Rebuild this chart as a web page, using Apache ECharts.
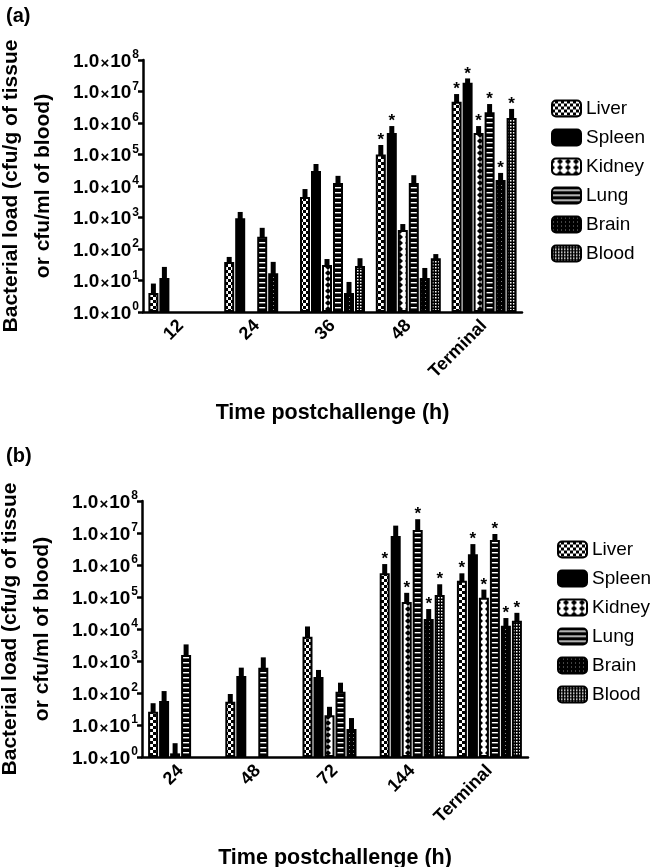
<!DOCTYPE html>
<html><head><meta charset="utf-8">
<script src="https://cdn.jsdelivr.net/npm/echarts@6/dist/echarts.min.js"></script>
<style>html,body{margin:0;padding:0;background:#fff;}#c{width:655px;height:867px;}</style>
</head><body><div id="c"></div>
<script>
// ---------- DATA ----------
const seriesNames = ['Liver', 'Spleen', 'Kidney', 'Lung', 'Brain', 'Blood'];
const yTickExponents = [0, 1, 2, 3, 4, 5, 6, 7, 8];

// Panel (a)
const catsA = ['12', '24', '36', '48', 'Terminal'];
const liverA = [4, 39, 4500, 100000, 4700000];
const liverErrA = [8, 56, 8000, 200000, 8300000];
const liverSigA = [0, 0, 0, 1, 1];
const spleenA = [12, 950, 30000, 480000, 19000000];
const spleenErrA = [27, 1500, 50000, 800000, 26000000];
const spleenSigA = [0, 0, 0, 1, 1];
const kidneyA = [null, null, 31, 400, 480000];
const kidneyErrA = [null, null, 48, 620, 800000];
const kidneySigA = [0, 0, 0, 0, 1];
const lungA = [null, 245, 12500, 12500, 2200000];
const lungErrA = [null, 470, 21000, 22000, 4000000];
const lungSigA = [0, 0, 0, 0, 1];
const brainA = [null, 17, 4, 12, 15500];
const brainErrA = [null, 39, 9, 25, 26000];
const brainSigA = [0, 0, 0, 0, 1];
const bloodA = [null, null, 29, 51, 1450000];
const bloodErrA = [null, null, 51, 69, 2800000];
const bloodSigA = [0, 0, 0, 0, 1];

// Panel (b)
const catsB = ['24', '48', '72', '144', 'Terminal'];
const liverB = [26, 53, 5700, 550000, 320000];
const liverErrB = [48, 93, 12000, 1070000, 550000];
const liverSigB = [0, 0, 0, 1, 1];
const spleenB = [56, 340, 316, 8000000, 2150000];
const spleenErrB = [115, 620, 525, 17000000, 4500000];
const spleenSigB = [0, 0, 0, 0, 1];
const kidneyB = [1.3, null, 20, 70000, 95000];
const kidneyErrB = [2.7, null, 37, 135000, 170000];
const kidneySigB = [0, 0, 0, 1, 1];
const lungB = [1550, 620, 110, 12400000, 6000000];
const lungErrB = [3300, 1300, 210, 27000000, 9300000];
const lungSigB = [0, 0, 0, 1, 1];
const brainB = [null, null, 7.5, 20500, 12600];
const brainErrB = [null, null, 16.5, 42000, 22000];
const brainSigB = [0, 0, 0, 1, 1];
const bloodB = [null, null, null, 115000, 18000];
const bloodErrB = [null, null, null, 250000, 32000];
const bloodSigB = [0, 0, 0, 1, 1];

// ---------- STYLE ----------
const FONT = '"Liberation Sans", Arial, Helvetica, sans-serif';
function tile(w, h, draw) {
  const c = document.createElement('canvas');
  c.width = w; c.height = h;
  const g = c.getContext('2d');
  draw(g);
  return { image: c, repeat: 'repeat' };
}
const patterns = {
  Liver: tile(6, 6, g => { g.fillStyle = '#000'; g.fillRect(0,0,6,6); g.fillStyle = '#fff'; g.fillRect(0,0,3,3); g.fillRect(3,3,3,3); }),
  Spleen: '#000',
  Kidney: tile(8, 6, g => { g.fillStyle = '#fff'; g.fillRect(0,0,8,6); g.fillStyle = '#000';
    g.beginPath(); g.moveTo(0,0); g.lineTo(3,3); g.lineTo(0,6); g.closePath(); g.fill();
    g.beginPath(); g.moveTo(8,0); g.lineTo(5,3); g.lineTo(8,6); g.closePath(); g.fill(); }),
  Lung: tile(4, 5, g => { g.fillStyle = '#000'; g.fillRect(0,0,4,5); g.fillStyle = '#fff'; g.fillRect(0,2,4,1.4); }),
  Brain: tile(4, 4, g => { g.fillStyle = '#000'; g.fillRect(0,0,4,4); g.fillStyle = '#888'; g.fillRect(1,1,1,1); }),
  Blood: tile(3, 3, g => { g.fillStyle = '#000'; g.fillRect(0,0,3,3); g.fillStyle = '#fff'; g.fillRect(0,0,1.5,1.5); })
};

const BAR_W = 10, BAR_GAP = 0.1;
const STEP = BAR_W * (1 + BAR_GAP);

const panels = [
  { cats: catsA, vals: [liverA, spleenA, kidneyA, lungA, brainA, bloodA],
    errs: [liverErrA, spleenErrA, kidneyErrA, lungErrA, brainErrA, bloodErrA],
    sigs: [liverSigA, spleenSigA, kidneySigA, lungSigA, brainSigA, bloodSigA],
    grid: { left: 143, top: 60, width: 379, height: 252, outerBoundsMode: 'none', containLabel: false },
    legendTop: 94, legendLeft: 546 },
  { cats: catsB, vals: [liverB, spleenB, kidneyB, lungB, brainB, bloodB],
    errs: [liverErrB, spleenErrB, kidneyErrB, lungErrB, brainErrB, bloodErrB],
    sigs: [liverSigB, spleenSigB, kidneySigB, lungSigB, brainSigB, bloodSigB],
    grid: { left: 142, top: 501, width: 386, height: 256, outerBoundsMode: 'none', containLabel: false },
    legendTop: 535, legendLeft: 552 }
];

function yLabel(v) {
  const e = Math.round(Math.log10(v));
  return '{n|1.0}{x|×}{n|10}{s|' + e + '}';
}

const grids = [], xAxes = [], yAxes = [], series = [], legends = [];
panels.forEach((p, pi) => {
  grids.push(p.grid);
  xAxes.push({
    type: 'category', gridIndex: pi, data: p.cats,
    name: 'Time postchallenge (h)', nameLocation: 'middle', nameGap: 90,
    nameTextStyle: { fontFamily: FONT, fontWeight: 'bold', fontSize: 21.5, color: '#000' },
    axisLine: { lineStyle: { color: '#000', width: 2.5 } },
    axisTick: { alignWithLabel: true, length: 6, lineStyle: { color: '#000', width: 2.5 } },
    axisLabel: { rotate: 45, margin: 11, fontFamily: FONT, fontWeight: 'bold', fontSize: 18, color: '#000' },
    splitLine: { show: false }
  });
  yAxes.push({
    type: 'log', logBase: 10, gridIndex: pi, min: 1, max: 1e8, interval: 1,
    name: 'Bacterial load (cfu/g of tissue\nor cfu/ml of blood)', nameLocation: 'middle', nameGap: 84, nameRotate: 90,
    nameTextStyle: { fontFamily: FONT, fontWeight: 'bold', fontSize: 21, color: '#000', lineHeight: 32 },
    axisLine: { show: true, lineStyle: { color: '#000', width: 2.5 } },
    axisTick: { show: true, length: 5, lineStyle: { color: '#000', width: 2.5 } },
    minorTick: { show: false },
    splitLine: { show: false },
    axisLabel: {
      margin: 4, formatter: yLabel, fontSize: 19, fontWeight: 'bold', color: '#000', fontFamily: FONT,
      rich: {
        n: { fontFamily: FONT, fontWeight: 'bold', fontSize: 19, color: '#000', lineHeight: 22, verticalAlign: 'bottom' },
        x: { fontFamily: FONT, fontSize: 15, color: '#000', lineHeight: 22, verticalAlign: 'bottom', padding: [0, 1, 0, 1] },
        s: { fontFamily: FONT, fontWeight: 'bold', fontSize: 12, color: '#000', lineHeight: 22, verticalAlign: 'top', padding: [0, 0, 0, 1] }
      }
    }
  });
  seriesNames.forEach((nm, si) => {
    series.push({
      type: 'bar', name: nm, xAxisIndex: pi, yAxisIndex: pi,
      data: p.vals[si], barWidth: BAR_W, barGap: (BAR_GAP * 100) + '%',
      itemStyle: { color: patterns[nm], borderColor: '#000', borderWidth: 2 },
      emphasis: { disabled: true }, z: 2
    });
  });
  const errData = [];
  p.cats.forEach((c, ci) => {
    seriesNames.forEach((nm, si) => {
      const v = p.vals[si][ci];
      if (v != null) errData.push([ci, si, v, p.errs[si][ci], p.sigs[si][ci]]);
    });
  });
  series.push({
    type: 'custom', xAxisIndex: pi, yAxisIndex: pi, data: errData, z: 3,
    encode: { x: 0, y: [2, 3] }, silent: true,
    renderItem: function (params, api) {
      const ci = api.value(0), si = api.value(1), v = api.value(2), e = api.value(3), sig = api.value(4);
      const p0 = api.coord([ci, v]);
      const p1 = api.coord([ci, e]);
      const x = p0[0] + (si - 2.5) * STEP;
      const children = [{
        type: 'rect',
        shape: { x: x - 2.5, y: p1[1], width: 5, height: p0[1] - p1[1] + 1 },
        style: { fill: '#000' }
      }];
      if (sig) {
        children.push({
          type: 'text',
          style: { text: '*', x: x, y: p1[1] + 4, align: 'center', verticalAlign: 'bottom',
                   font: 'bold 17px ' + FONT, fill: '#000' }
        });
      }
      return { type: 'group', children: children };
    }
  });
  legends.push({
    orient: 'vertical', left: p.legendLeft, top: p.legendTop,
    data: seriesNames, itemWidth: 29, itemHeight: 16, itemGap: 10,
    icon: 'roundRect', selectedMode: false,
    textStyle: { fontFamily: FONT, fontSize: 19, color: '#000', padding: [0, 0, 0, 0] },
    itemStyle: { borderColor: '#000', borderWidth: 2 }
  });
});

const chart = echarts.init(document.getElementById('c'), null, { renderer: 'canvas' });
chart.setOption({
  animation: false,
  backgroundColor: '#fff',
  title: [
    { text: '(a)', left: 1, top: 1, textStyle: { fontFamily: FONT, fontWeight: 'bold', fontSize: 20, color: '#000' } },
    { text: '(b)', left: 1, top: 441, textStyle: { fontFamily: FONT, fontWeight: 'bold', fontSize: 20, color: '#000' } }
  ],
  legend: legends,
  grid: grids,
  xAxis: xAxes,
  yAxis: yAxes,
  series: series
});
</script>
</body></html>
